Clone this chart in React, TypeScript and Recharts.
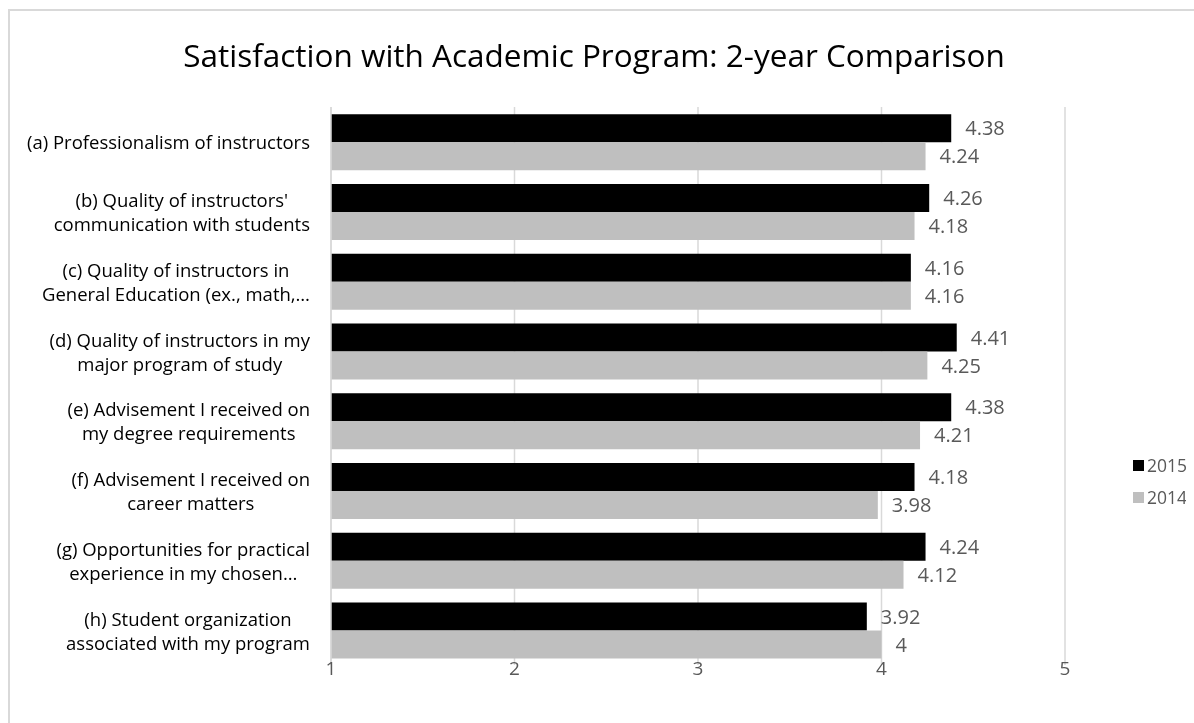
import { BarChart, Bar, XAxis, YAxis, CartesianGrid, LabelList } from "recharts";

// wrapped category labels, as Excel shows them
const categoryLabels: string[][] = [
  ["(a) Professionalism of instructors"],
  ["(b) Quality of instructors'", "communication with students"],
  ["(c) Quality of instructors in", "General Education (ex., math,…"],
  ["(d) Quality of instructors in my", "major program of study"],
  ["(e) Advisement I received on", "my degree requirements"],
  ["(f) Advisement I received on", "career matters"],
  ["(g) Opportunities for practical", "experience in my chosen…"],
  ["(h) Student organization", "associated with my program"],
];
const categoryKeys = ["a", "b", "c", "d", "e", "f", "g", "h"];
const values2015 = [4.38, 4.26, 4.16, 4.41, 4.38, 4.18, 4.24, 3.92];
const values2014 = [4.24, 4.18, 4.16, 4.25, 4.21, 3.98, 4.12, 4];
const seriesNames = ["2015", "2014"];
const xTicks = [1, 2, 3, 4, 5];

const FONT = "'Open Sans', sans-serif";
const BLACK = "#000000";
const GRAY = "#bfbfbf";
const TEXT_GRAY = "#595959";
const GRID = "#d9d9d9";
const LABEL_SIZE = 18.5;
const LINE_H = 24;

const data = categoryKeys.map((k, i) => ({
  key: k,
  y2015: values2015[i],
  y2014: values2014[i],
}));

let ctx: CanvasRenderingContext2D | null = null;
function measure(s: string, size: number) {
  if (!ctx) ctx = document.createElement("canvas").getContext("2d");
  if (!ctx) return s.length * size * 0.5;
  ctx.font = `${size}px ${FONT}`;
  return ctx.measureText(s).width;
}

function CategoryTick(props: any) {
  const { x, y, payload } = props;
  const idx = categoryKeys.indexOf(payload.value);
  const lines = categoryLabels[idx] || [];
  const w = Math.max(...lines.map((l) => measure(l, LABEL_SIZE)));
  const cx = x - w / 2;
  const top = y - ((lines.length - 1) * LINE_H) / 2;
  return (
    <g>
      {lines.map((l, i) => (
        <text
          key={i}
          x={cx}
          y={top + i * LINE_H}
          textAnchor="middle"
          dominantBaseline="central"
          fontSize={LABEL_SIZE}
          fontFamily={FONT}
          fill="#000"
        >
          {l}
        </text>
      ))}
    </g>
  );
}

function ValueTick(props: any) {
  const { x, y, payload } = props;
  return (
    <text x={x} y={y} textAnchor="middle" dominantBaseline="central" fontSize={19} fontFamily={FONT} fill={TEXT_GRAY}>
      {payload.value}
    </text>
  );
}

function LegendBox() {
  const colors = [BLACK, GRAY];
  return (
    <div style={{ position: "absolute", left: 1125, top: 441, width: 62, fontFamily: FONT, whiteSpace: "nowrap" }}>
      {seriesNames.map((n, i) => (
        <div key={n} style={{ display: "flex", alignItems: "center", height: 32 }}>
          <span style={{ width: 11, height: 11, background: colors[i], marginRight: 3, display: "inline-block" }} />
          <span style={{ fontSize: 17.5, color: TEXT_GRAY }}>{n}</span>
        </div>
      ))}
    </div>
  );
}

export default function App() {
  return (
    <div style={{ position: "relative", width: 1186, height: 705, fontFamily: FONT }}>
      {/* chart frame, runs off the right and bottom edges like the source */}
      <div
        style={{
          position: "fixed",
          left: 8,
          top: 9,
          width: 1300,
          height: 800,
          border: `2px solid ${GRID}`,
          boxSizing: "border-box",
        }}
      />
      <div
        style={{
          position: "absolute",
          left: 0,
          top: 26,
          width: 1172,
          textAlign: "center",
          fontSize: 31.5,
          lineHeight: "42px",
          color: "#000",
          whiteSpace: "nowrap",
        }}
      >
        Satisfaction with Academic Program: 2-year Comparison
      </div>
      <div style={{ position: "absolute", left: 0, top: 0 }}>
        <BarChart
          width={1186}
          height={705}
          data={data}
          layout="vertical"
          margin={{ top: 99, right: 129, left: 0, bottom: 10 }}
          barCategoryGap="10.5%"
          barGap={0}
        >
          <CartesianGrid horizontal={false} stroke={GRID} strokeWidth={1.5} />
          <XAxis
            type="number"
            domain={[1, 5]}
            ticks={xTicks}
            axisLine={false}
            tickLine={false}
            tickSize={0}
            tickMargin={3}
            height={38}
            tick={<ValueTick />}
          />
          <YAxis
            type="category"
            dataKey="key"
            width={323}
            axisLine={{ stroke: GRID, strokeWidth: 1.5 }}
            tickLine={false}
            tickSize={0}
            tickMargin={21}
            tick={<CategoryTick />}
          />
          <Bar dataKey="y2015" name={seriesNames[0]} fill={BLACK} isAnimationActive={false}>
            <LabelList dataKey="y2015" position="right" offset={14} fill={TEXT_GRAY} fontSize={20} fontFamily={FONT} />
          </Bar>
          <Bar dataKey="y2014" name={seriesNames[1]} fill={GRAY} isAnimationActive={false}>
            <LabelList dataKey="y2014" position="right" offset={14} fill={TEXT_GRAY} fontSize={20} fontFamily={FONT} />
          </Bar>
        </BarChart>
      </div>
      <LegendBox />
      <div
        style={{
          position: "absolute",
          left: -8,
          top: -27,
          fontSize: 20,
          lineHeight: "24px",
          color: "#000",
        }}
      >
        Figure 3.
      </div>
    </div>
  );
}
